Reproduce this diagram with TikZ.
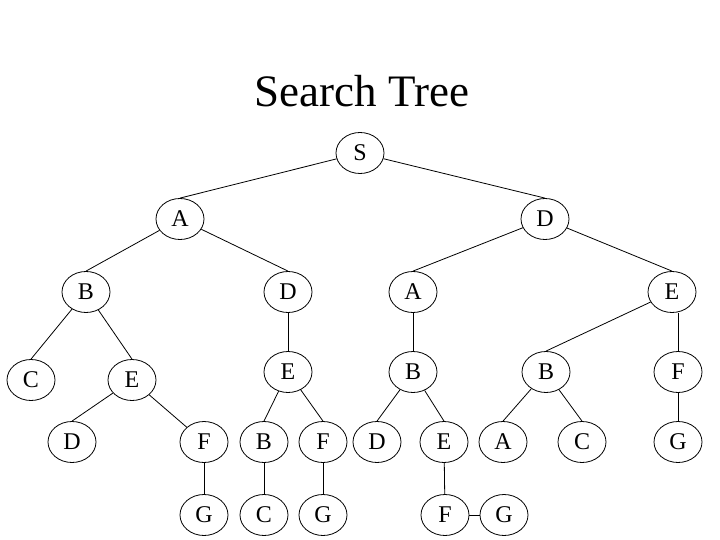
\documentclass[tikz,border=0pt]{standalone}
\usepackage{fontspec}
\setmainfont{Liberation Serif}
\usetikzlibrary{shapes.geometric}
\tikzset{
  st/.style={draw, ellipse, line width=0.8pt, minimum width=48pt,
             minimum height=41pt, inner sep=0pt,
             font=\fontsize{24}{24}\selectfont},
  link/.style={line width=0.8pt},
  ttl/.style={font=\fontsize{45}{45}\selectfont, inner sep=0pt},
}

\begin{document}
\begin{tikzpicture}[x=1pt, y=-1pt]
\useasboundingbox (0,0) rectangle (720,540);

\node[ttl] (title) at (362,91) {Search Tree};

%% ── root and first two levels ─────────────────────────────────────────────
\node[st] (s) at (360,153) {S};
\node[st] (a1) at (180,219) {A};
\node[st] (d1) at (545,219) {D};

\node[st] (b2) at (86,292) {B};
\node[st] (d2) at (288,292) {D};
\node[st] (a2) at (413,292) {A};
\node[st] (e2) at (672,292) {E};

%% ── third level ───────────────────────────────────────────────────────────
\node[st] (c3) at (31,380) {C};
\node[st] (e3) at (132,380) {E};
\node[st] (e3m) at (288,372) {E};
\node[st] (b3) at (413,372) {B};
\node[st] (b3r) at (546,372) {B};
\node[st] (f3) at (678,372) {F};

%% ── fourth level ──────────────────────────────────────────────────────────
\node[st] (d4) at (72,442) {D};
\node[st] (f4) at (204,442) {F};
\node[st] (b4) at (264,442) {B};
\node[st] (f4m) at (323,442) {F};
\node[st] (d4m) at (377,442) {D};
\node[st] (e4) at (444,442) {E};
\node[st] (a4) at (503,442) {A};
\node[st] (c4) at (582,442) {C};
\node[st] (g4) at (678,442) {G};

%% ── fifth level ───────────────────────────────────────────────────────────
\node[st] (g5) at (204,515) {G};
\node[st] (c5) at (264,515) {C};
\node[st] (g5m) at (323,515) {G};
\node[st] (f5) at (445,515) {F};
\node[st] (g5r) at (504,515) {G};

%% ── edges: parent to the top of the child ────────────────────────────────
\draw[link] (s) -- (a1.north);
\draw[link] (s) -- (d1.north);
\draw[link] (a1) -- (b2.north);
\draw[link] (a1) -- (d2.north);
\draw[link] (d1) -- (a2.north);
\draw[link] (d1) -- (e2.north);
\draw[link] (b2) -- (c3.north);
\draw[link] (b2) -- (e3.north);
\draw[link] (e3) -- (d4.north);
\draw[link] (e3) -- (f4.north west);
\draw[link] (d2) -- (e3m);
\draw[link] (e3m) -- (b4.north);
\draw[link] (e3m) -- (f4m.north);
\draw[link] (a2) -- (b3);
\draw[link] (b3) -- (d4m.north);
\draw[link] (b3) -- (e4.north);
\draw[link] (e2) -- (b3r.north);
\draw[link] (f3.north) -- (e2.south -| f3.north);
\draw[link] (b3r) -- (a4.north);
\draw[link] (b3r) -- (c4.north);
\draw[link] (f3) -- (g4);
\draw[link] (f4) -- (g5);
\draw[link] (b4) -- (c5);
\draw[link] (f4m) -- (g5m);
\draw[link] (e4) -- (f5);
\draw[link] (f5) -- (g5r);

\end{tikzpicture}
\end{document}
